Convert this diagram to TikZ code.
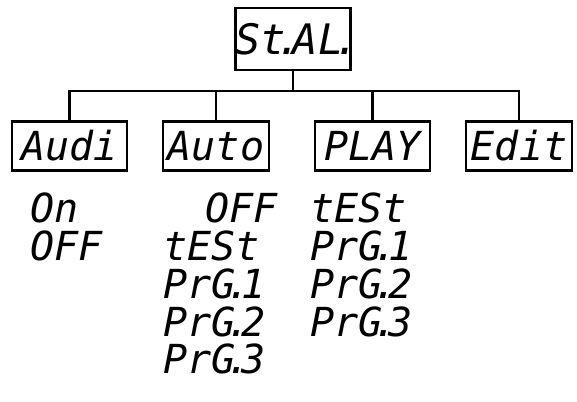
\documentclass[tikz,border=0pt]{standalone}
\usepackage{fontspec}
\newfontfamily\segfont{DejaVu Sans Mono}
\newcommand\segdot{\kern-.22em.\kern-.22em}
\tikzset{
  seg/.style={font=\segfont\itshape\fontsize{40}{40}\selectfont, inner sep=0pt, text=black},
  menubox/.style={draw, line width=2.7pt, seg, minimum height=49pt},
  conn/.style={line width=2.7pt},
  item/.style={seg, anchor=base west}
}
\begin{document}
\begin{tikzpicture}[x=1pt,y=-1pt]
\useasboundingbox (0,0) rectangle (577,401);
% top box
\node[menubox, minimum width=112pt, minimum height=62pt, font=\segfont\itshape\fontsize{42}{42}\selectfont] (top) at (293,39) {St\segdot AL\segdot};
% second level
\node[menubox, minimum width=115pt] (audi) at (69.5,146) {Audi};
\node[menubox, minimum width=106pt] (auto) at (216,146) {Auto};
\node[menubox, minimum width=115pt] (play) at (372.5,146) {PLAY};
\node[menubox, minimum width=106pt] (edit) at (519,146) {Edit};
% connectors
\coordinate (bus) at (0,91);
\draw[conn] (top.south) -- (top.south |- bus);
\draw[conn] (audi.north) -- (audi.north |- bus) -- (edit.north |- bus) -- (edit.north);
\draw[conn] (auto.north) -- (auto.north |- bus);
\draw[conn] (play.north) -- (play.north |- bus);
% Audi list
\node[item] (a1) at (30,222) {On};
\node[item] (a2) at (30,260) {OFF};
% Auto list
\node[item] (b1) at (205,222) {OFF};
\node[item] (b2) at (163,260) {tESt};
\node[item] (b3) at (163,298) {PrG\segdot 1};
\node[item] (b4) at (163,336) {PrG\segdot 2};
\node[item] (b5) at (163,373) {PrG\segdot 3};
% PLAY list
\node[item] (c1) at (310,222) {tESt};
\node[item] (c2) at (310,260) {PrG\segdot 1};
\node[item] (c3) at (310,298) {PrG\segdot 2};
\node[item] (c4) at (310,336) {PrG\segdot 3};
\end{tikzpicture}
\end{document}
